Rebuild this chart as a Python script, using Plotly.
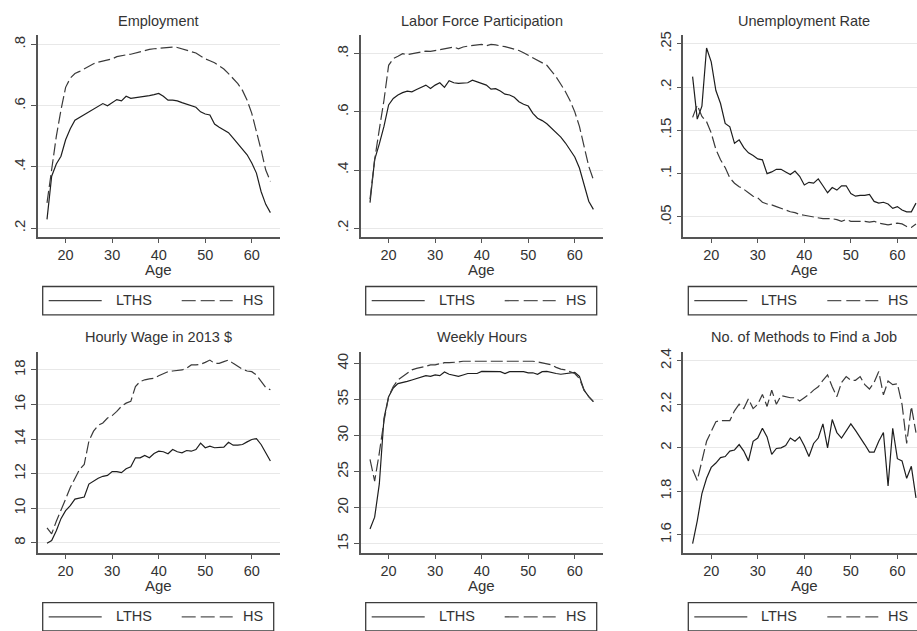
import plotly.graph_objects as go

# ---------------- data ----------------
ages = list(range(16, 65))

emp_lths = [.229, .37, .41, .435, .489, .525, .553, .562, .57, .58, .588, .597, .607, .60, .611, .62, .616,
            .631, .624, .626, .627, .63, .633, .636, .64, .631, .618, .618, .616, .61, .605, .602, .595, .58,
            .573, .57, .54, .53, .52, .512, .494, .476, .456, .44, .413, .38, .32, .278, .251]
emp_hs = [.283, .39, .50, .586, .66, .69, .705, .712, .72, .728, .737, .742, .746, .749, .753, .76, .764,
          .766, .768, .772, .778, .781, .784, .786, .787, .789, .791, .791, .79, .786, .78, .776, .772, .762,
          .753, .747, .74, .73, .72, .705, .69, .672, .65, .618, .575, .52, .456, .39, .353]

lfp_lths = [.288, .436, .49, .55, .624, .646, .658, .666, .671, .669, .677, .684, .692, .68, .692, .70, .684,
            .707, .70, .698, .698, .70, .709, .703, .698, .692, .678, .68, .672, .661, .658, .65, .635, .626,
            .62, .595, .578, .57, .559, .544, .529, .513, .493, .47, .445, .407, .345, .293, .265]
lfp_hs = [.30, .436, .54, .64, .76, .783, .791, .80, .797, .80, .803, .806, .809, .808, .811, .813, .815,
          .818, .823, .817, .823, .826, .828, .83, .832, .827, .832, .83, .828, .824, .82, .816, .811, .803,
          .794, .786, .777, .768, .76, .74, .72, .695, .669, .638, .60, .55, .481, .413, .367]

unemp_lths = [.212, .163, .178, .245, .229, .196, .181, .158, .154, .135, .139, .13, .124, .121, .117, .116,
              .10, .102, .105, .105, .102, .099, .103, .097, .087, .09, .089, .094, .086, .078, .084, .081,
              .086, .086, .077, .074, .075, .075, .076, .068, .066, .067, .065, .06, .062, .058, .056, .056, .066]
unemp_hs = [.165, .179, .166, .16, .147, .128, .116, .107, .095, .089, .085, .082, .078, .074, .072, .067,
            .065, .064, .062, .06, .058, .056, .055, .053, .052, .051, .05, .049, .048, .048, .048, .047,
            .045, .047, .045, .045, .045, .045, .044, .045, .043, .042, .041, .042, .043, .042, .039, .038, .042]

wage_lths = [7.98, 8.13, 8.7, 9.4, 9.86, 10.15, 10.53, 10.6, 10.65, 11.4, 11.58, 11.74, 11.85, 11.9, 12.12,
             12.12, 12.06, 12.29, 12.4, 12.92, 12.92, 13.06, 12.92, 13.17, 13.3, 13.27, 13.15, 13.4, 13.27,
             13.21, 13.34, 13.3, 13.4, 13.77, 13.5, 13.59, 13.5, 13.54, 13.54, 13.82, 13.65, 13.65, 13.69,
             13.84, 13.98, 14.03, 13.69, 13.21, 12.73]
wage_hs = [8.86, 8.52, 9.25, 9.95, 10.53, 11.2, 11.77, 12.25, 12.54, 13.88, 14.46, 14.8, 14.93, 15.22, 15.36,
           15.6, 15.9, 16.08, 16.18, 17.04, 17.33, 17.43, 17.48, 17.52, 17.66, 17.8, 17.9, 17.94, 17.96, 18.0,
           18.1, 18.29, 18.29, 18.33, 18.44, 18.57, 18.38, 18.38, 18.48, 18.57, 18.38, 18.19, 18.04, 17.94,
           17.9, 17.71, 17.33, 16.98, 16.85]

hours_lths = [17.06, 18.7, 23.3, 32.4, 35.4, 36.6, 37.2, 37.3, 37.5, 37.7, 37.9, 38.0, 38.3, 38.2, 38.4, 38.3,
              38.8, 38.5, 38.3, 38.2, 38.4, 38.6, 38.6, 38.6, 38.9, 38.9, 38.8, 38.9, 38.85, 38.6, 38.85,
              38.85, 38.85, 38.85, 38.7, 38.7, 38.5, 38.85, 38.9, 38.7, 38.6, 38.5, 38.6, 38.6, 38.75, 38.2,
              36.3, 35.4, 34.7]
hours_hs = [26.7, 23.7, 27.6, 32.0, 35.4, 36.8, 37.7, 38.2, 38.7, 39.1, 39.3, 39.4, 39.6, 39.8, 39.8, 39.95,
            40.1, 40.1, 40.1, 40.2, 40.3, 40.3, 40.3, 40.35, 40.4, 40.4, 40.4, 40.4, 40.4, 40.4, 40.4, 40.4,
            40.4, 40.4, 40.35, 40.3, 40.2, 40.1, 40.0, 39.8, 39.45, 39.2, 39.1, 38.85, 38.6, 37.9, 36.3,
            35.4, 34.7]

methods_lths = [1.56, 1.665, 1.79, 1.86, 1.91, 1.93, 1.955, 1.96, 1.985, 1.99, 2.015, 1.985, 1.94, 2.03,
                2.045, 2.09, 2.05, 1.97, 1.997, 2.0, 2.01, 2.045, 2.03, 2.05, 2.01, 1.96, 2.02, 2.045, 2.11,
                2.0, 2.13, 2.07, 2.045, 2.075, 2.11, 2.08, 2.05, 2.015, 1.98, 1.98, 2.03, 2.07, 1.825, 2.09,
                1.95, 1.94, 1.86, 1.915, 1.77]
methods_hs = [1.90, 1.85, 1.94, 2.03, 2.075, 2.12, 2.125, 2.125, 2.125, 2.17, 2.2, 2.18, 2.225, 2.18, 2.2,
              2.245, 2.19, 2.265, 2.2, 2.24, 2.235, 2.23, 2.23, 2.215, 2.23, 2.245, 2.265, 2.28, 2.31, 2.335,
              2.28, 2.235, 2.3, 2.327, 2.31, 2.31, 2.327, 2.29, 2.27, 2.3, 2.35, 2.243, 2.307, 2.29, 2.294,
              2.2, 2.02, 2.19, 2.07]

titles = ["Employment", "Labor Force Participation", "Unemployment Rate",
          "Hourly Wage in 2013 $", "Weekly Hours", "No. of Methods to Find a Job"]
series = [(emp_lths, emp_hs), (lfp_lths, lfp_hs), (unemp_lths, unemp_hs),
          (wage_lths, wage_hs), (hours_lths, hours_hs), (methods_lths, methods_hs)]
ytick_vals = [[.2, .4, .6, .8], [.2, .4, .6, .8], [.05, .1, .15, .2, .25],
              [8, 10, 12, 14, 16, 18], [15, 20, 25, 30, 35, 40], [1.6, 1.8, 2.0, 2.2, 2.4]]
ytick_text = [[".2", ".4", ".6", ".8"], [".2", ".4", ".6", ".8"], [".05", ".1", ".15", ".2", ".25"],
              ["8", "10", "12", "14", "16", "18"], ["15", "20", "25", "30", "35", "40"],
              ["1.6", "1.8", "2", "2.2", "2.4"]]
y_ranges = [[0.1721, 0.8292], [0.1706, 0.8625], [0.0271, 0.2595],
            [7.414, 19.05], [13.73, 41.61], [1.517, 2.441]]
xtick_vals = [20, 30, 40, 50, 60]
legend_names = ["LTHS", "HS"]

# ---------------- layout geometry (pixels) ----------------
W, H = 917, 631
col_left = [37.7, 360.7, 683.3]
panel_w = 242.0
row_top = [31.7, 350.0]
row_bot = [234.3, 552.5]
x_span = [14, 66]
px_per_year = panel_w / (x_span[1] - x_span[0])

FONT = "Liberation Sans, Arial, sans-serif"
TXT = "#333333"
AXIS = "#555555"
GRID = "#e8e8e8"


def px(x):
    return x / W


def py(y):
    return 1 - y / H


fig = go.Figure()
annotations = []
shapes = []

for i in range(6):
    r, c = divmod(i, 3)
    k = "" if i == 0 else str(i + 1)
    left = col_left[c]
    right = min(left + panel_w, W)
    xr = [x_span[0], x_span[0] + (right - left) / px_per_year]

    lths, hs = series[i]
    fig.add_trace(go.Scatter(x=ages, y=lths, mode="lines", name=legend_names[0],
                             line=dict(color="#1e1e1e", width=1.2),
                             xaxis="x" + k, yaxis="y" + k, showlegend=False))
    fig.add_trace(go.Scatter(x=ages, y=hs, mode="lines", name=legend_names[1],
                             line=dict(color="#3a3a3a", width=1.2, dash="12px,4px"),
                             xaxis="x" + k, yaxis="y" + k, showlegend=False))

    fig.layout["xaxis" + k] = dict(
        domain=[px(left), px(right)], range=xr, anchor="y" + k,
        tickmode="array", tickvals=xtick_vals, ticks="outside", ticklen=4, tickwidth=1.3,
        tickcolor=AXIS, showline=True, linecolor=AXIS, linewidth=1.5, showgrid=False,
        zeroline=False, tickfont=dict(family=FONT, size=14.5, color=TXT), fixedrange=True)
    fig.layout["yaxis" + k] = dict(
        domain=[py(row_bot[r]), py(row_top[r])], range=y_ranges[i], anchor="x" + k,
        tickmode="array", tickvals=ytick_vals[i], ticktext=ytick_text[i], tickangle=-90,
        ticks="outside", ticklen=5, tickwidth=1.3, tickcolor=AXIS,
        showline=True, linecolor=AXIS, linewidth=1.5, showgrid=True, gridcolor=GRID, gridwidth=1,
        zeroline=False, tickfont=dict(family=FONT, size=15, color=TXT), fixedrange=True)

    cx = left + panel_w / 2
    # panel title
    annotations.append(dict(text=titles[i], x=px(cx), y=py(row_top[r] - 15), xref="paper", yref="paper",
                            xanchor="center", yanchor="middle", showarrow=False,
                            font=dict(family=FONT, size=14.5, color=TXT)))
    # x axis title
    annotations.append(dict(text="Age", x=px(cx), y=py(row_bot[r] + 33), xref="paper", yref="paper",
                            xanchor="center", yanchor="middle", showarrow=False,
                            font=dict(family=FONT, size=15, color=TXT)))

    # legend box under each panel
    L = left + 5
    top = row_bot[r] + 50
    bot = row_bot[r] + 78.5
    mid = (top + bot) / 2
    shapes.append(dict(type="rect", xref="paper", yref="paper", x0=px(L), x1=px(L + 231),
                       y0=py(bot), y1=py(top), line=dict(color="#3c3c3c", width=1.3),
                       fillcolor="rgba(0,0,0,0)"))
    shapes.append(dict(type="line", xref="paper", yref="paper", x0=px(L + 6), x1=px(L + 59),
                       y0=py(mid), y1=py(mid), line=dict(color="#444444", width=1.4)))
    shapes.append(dict(type="line", xref="paper", yref="paper", x0=px(L + 139), x1=px(L + 190),
                       y0=py(mid), y1=py(mid), line=dict(color="#555555", width=1.4, dash="14px,5px")))
    annotations.append(dict(text=legend_names[0], x=px(L + 71), y=py(mid - 1), xref="paper", yref="paper",
                            xanchor="left", yanchor="middle", showarrow=False,
                            font=dict(family=FONT, size=14.5, color=TXT)))
    annotations.append(dict(text=legend_names[1], x=px(L + 198), y=py(mid - 1), xref="paper", yref="paper",
                            xanchor="left", yanchor="middle", showarrow=False,
                            font=dict(family=FONT, size=14.5, color=TXT)))

fig.update_layout(
    width=W, height=H, margin=dict(l=0, r=0, t=0, b=0),
    paper_bgcolor="white", plot_bgcolor="white",
    annotations=annotations, shapes=shapes, showlegend=False,
    font=dict(family=FONT, color=TXT),
)

fig.write_html("out.html", config={"displayModeBar": False})
